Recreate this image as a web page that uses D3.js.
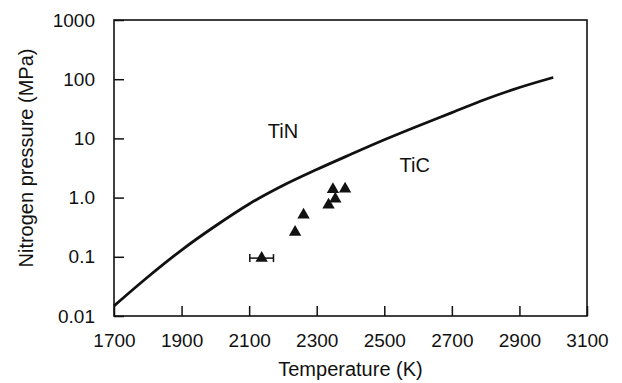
<!DOCTYPE html>
<html>
<head>
<meta charset="utf-8">
<script src="https://cdn.jsdelivr.net/npm/d3@7"></script>
<style>
  body { margin: 0; background: #fff; }
  svg { display: block; font-family: 'Liberation Sans', Arial, Helvetica, sans-serif; }
  .tick text { font-size: 19px; fill: #111; }
  .tick line { stroke: #111; stroke-width: 1.5; }
</style>
</head>
<body>
<svg width="622" height="383"></svg>
<script>
// Boundary curve TiN / TiC (temperature K, nitrogen pressure MPa)
const curveTemps = [1700, 1800, 1900, 2000, 2100, 2200, 2300, 2400, 2500, 2600, 2700, 2800, 2900, 3000]
const curvePress = [0.0148, 0.0456, 0.130, 0.331, 0.78, 1.60, 2.98, 5.35, 9.47, 16.2, 27.2, 45.9, 72.4, 107]

// Measured points (triangles)
const pointTemps = [2137, 2236, 2261, 2335, 2355, 2348, 2384]
const pointPress = [0.095, 0.26, 0.51, 0.75, 0.95, 1.38, 1.40]
const errorBar = { index: 0, minus: 35, plus: 35 }

// Axis ticks
const xTicks = [1700, 1900, 2100, 2300, 2500, 2700, 2900, 3100]
const yTicks = [1000, 100, 10, 1, 0.1, 0.01]
const yTickLabels = ['1000', '100', '10', '1.0', '0.1', '0.01']

const regionLabels = [
    { text: 'TiN', t: 2155, p: 10.2 },
    { text: 'TiC', t: 2545, p: 2.74 }
]

const svg = d3.select('svg')
const margin = { top: 20, right: 35, bottom: 67, left: 114 }
const width = 622 - margin.left - margin.right
const height = 383 - margin.top - margin.bottom

const x = d3.scaleLinear().domain([1700, 3100]).range([margin.left, margin.left + width])
const y = d3.scaleLog().domain([0.01, 1000]).range([margin.top + height, margin.top])

// Axes (ticks point inward)
svg.append('g')
    .attr('transform', `translate(0, ${margin.top + height})`)
    .call(d3.axisBottom(x).tickValues(xTicks).tickFormat(d3.format('d')).tickSizeInner(-10).tickSizeOuter(0).tickPadding(18))
    .call(g => g.select('.domain').remove())

svg.append('g')
    .attr('transform', `translate(${margin.left}, 0)`)
    .call(d3.axisLeft(y).tickValues(yTicks).tickFormat((d, i) => yTickLabels[i]).tickSizeInner(-10).tickSizeOuter(0).tickPadding(19))
    .call(g => g.select('.domain').remove())

// Frame
svg.append('rect')
    .attr('x', margin.left)
    .attr('y', margin.top)
    .attr('width', width)
    .attr('height', height)
    .attr('fill', 'none')
    .attr('stroke', '#111')
    .attr('stroke-width', 1.6)

// Boundary line
const line = d3.line()
    .x((d, i) => x(curveTemps[i]))
    .y(d => y(d))
    .curve(d3.curveMonotoneX)

svg.append('path')
    .attr('d', line(curvePress))
    .attr('fill', 'none')
    .attr('stroke', '#111')
    .attr('stroke-width', 2.8)

// Error bar
const eb = errorBar
const ebY = y(pointPress[eb.index])
const ebX0 = x(pointTemps[eb.index] - eb.minus)
const ebX1 = x(pointTemps[eb.index] + eb.plus)
const errG = svg.append('g').attr('stroke', '#111').attr('stroke-width', 1.5)
errG.append('line').attr('x1', ebX0).attr('x2', ebX1).attr('y1', ebY).attr('y2', ebY)
errG.selectAll('line.cap')
    .data([ebX0, ebX1])
    .join('line')
    .attr('class', 'cap')
    .attr('x1', d => d).attr('x2', d => d)
    .attr('y1', ebY - 4).attr('y2', ebY + 4)

// Triangles
svg.append('g')
    .selectAll('path')
    .data(pointPress)
    .join('path')
    .attr('transform', (d, i) => `translate(${x(pointTemps[i])}, ${y(d)})`)
    .attr('d', d3.symbol(d3.symbolTriangle, 66))
    .attr('fill', '#111')

// Region labels
svg.append('g')
    .selectAll('text')
    .data(regionLabels)
    .join('text')
    .attr('x', d => x(d.t))
    .attr('y', d => y(d.p))
    .attr('font-size', 20)
    .attr('fill', '#111')
    .text(d => d.text)

// Axis titles
svg.append('text')
    .attr('x', margin.left + width / 2)
    .attr('y', 376)
    .attr('text-anchor', 'middle')
    .attr('font-size', 20)
    .attr('fill', '#111')
    .text('Temperature (K)')

svg.append('text')
    .attr('transform', `translate(33, ${margin.top + height / 2 - 10}) rotate(-90)`)
    .attr('text-anchor', 'middle')
    .attr('font-size', 20)
    .attr('fill', '#111')
    .text('Nitrogen pressure (MPa)')
</script>
</body>
</html>
